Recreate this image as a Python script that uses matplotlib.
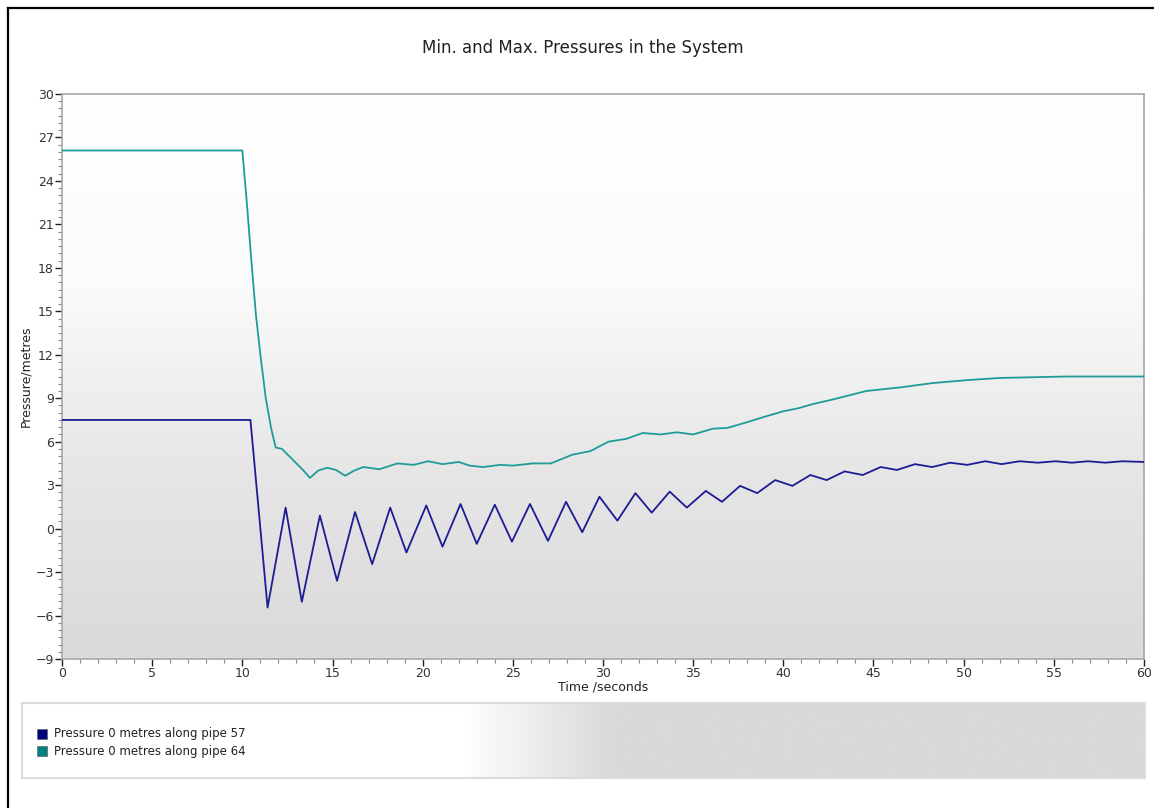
import numpy as np
import matplotlib
matplotlib.use("Agg")
from matplotlib import pyplot as plt
from matplotlib.lines import Line2D
from matplotlib.ticker import MultipleLocator
from matplotlib.colors import LinearSegmentedColormap

# pipe 57 (navy) - time / pressure
t57 = [0, 10.45, 11.4, 12.4, 13.3, 14.3, 15.25, 16.25, 17.2, 18.2, 19.1, 20.2, 21.1, 22.1,
       23.0, 24.0, 24.95, 25.95, 26.95, 27.95, 28.85, 29.8, 30.8, 31.8, 32.7, 33.7, 34.65,
       35.7, 36.6, 37.6, 38.55, 39.55, 40.5, 41.5, 42.4, 43.4, 44.4, 45.4, 46.3, 47.3, 48.25,
       49.25, 50.2, 51.2, 52.1, 53.1, 54.1, 55.1, 56.0, 56.9, 57.85, 58.8, 60]
p57 = [7.5, 7.5, -5.45, 1.45, -5.05, 0.9, -3.6, 1.15, -2.45, 1.45, -1.65, 1.6, -1.25, 1.7,
       -1.05, 1.65, -0.9, 1.7, -0.85, 1.85, -0.25, 2.2, 0.55, 2.45, 1.1, 2.55, 1.45,
       2.6, 1.85, 2.95, 2.45, 3.35, 2.95, 3.7, 3.35, 3.95, 3.7, 4.25, 4.05, 4.45, 4.25,
       4.55, 4.4, 4.65, 4.45, 4.65, 4.55, 4.65, 4.55, 4.65, 4.55, 4.65, 4.6]

# pipe 64 (teal)
t64 = [0, 10.0, 10.25, 10.5, 10.75, 11.0, 11.3, 11.6, 11.85, 12.2, 12.6, 13.0, 13.4, 13.75,
       14.2, 14.7, 15.2, 15.7, 16.2, 16.7, 17.6, 18.6, 19.5, 20.3, 21.1, 22.0, 22.6, 23.35,
       24.3, 25.0, 26.1, 27.1, 28.3, 29.3, 30.3, 31.3, 32.2, 33.2, 34.1, 35.0, 36.1, 36.9,
       38.0, 38.9, 40.0, 40.8, 41.65, 42.7, 44.6, 46.5, 48.3, 50.2, 52.0, 53.9, 55.7, 60]
p64 = [26.1, 26.1, 22.5, 18.5, 14.8, 12.0, 9.0, 6.9, 5.6, 5.5, 5.0, 4.5, 4.0, 3.5,
       4.0, 4.2, 4.05, 3.65, 4.0, 4.25, 4.1, 4.5, 4.4, 4.65, 4.45, 4.6, 4.35, 4.25,
       4.4, 4.35, 4.5, 4.5, 5.1, 5.35, 6.0, 6.2, 6.6, 6.5, 6.65, 6.5, 6.9, 6.95,
       7.35, 7.7, 8.1, 8.3, 8.6, 8.9, 9.5, 9.75, 10.05, 10.25, 10.4, 10.45, 10.5, 10.5]

labels = ["Pressure 0 metres along pipe 57", "Pressure 0 metres along pipe 64"]
line_colors = ["#1c1c94", "#1f9c98"]
box_colors = ["#000080", "#008080"]

W, H = 1154, 808
fig = plt.figure(figsize=(W / 100, H / 100), dpi=100)
plt.rcParams['font.family'] = ['DejaVu Sans']

# frame at the top and left edge
fig.add_artist(Line2D([8 / W, 8 / W], [0, 1 - 8 / H], color="black", lw=1.6))
fig.add_artist(Line2D([8 / W, 1], [1 - 8 / H, 1 - 8 / H], color="black", lw=1.6))

fig.text(583 / W, 1 - 48 / H, "Min. and Max. Pressures in the System",
         ha="center", va="center", fontsize=12, color="#222222")

ax = fig.add_axes([62 / W, (H - 659) / H, 1082 / W, 565 / H])
grad = LinearSegmentedColormap.from_list("bg", ["#dadada", "#e6e6e6", "#fbfbfb", "#ffffff"])
ax.imshow(np.linspace(0, 1, 256).reshape(-1, 1), cmap=grad, origin="lower",
          extent=[0, 60, -9, 30], aspect="auto", zorder=0)

ax.plot(t57, p57, color=line_colors[0], lw=1.3, zorder=3)
ax.plot(t64, p64, color=line_colors[1], lw=1.3, zorder=3)

ax.set_xlim(0, 60)
ax.set_ylim(-9, 30)
ax.xaxis.set_major_locator(MultipleLocator(5))
ax.xaxis.set_minor_locator(MultipleLocator(1))
ax.yaxis.set_major_locator(MultipleLocator(3))
ax.yaxis.set_minor_locator(MultipleLocator(0.5))
for s in ax.spines.values():
    s.set_color("#a8a8a8")
    s.set_linewidth(1.2)
ax.tick_params(which="major", length=5, width=1, color="#222222", labelsize=9, pad=1,
               labelcolor="#333333")
ax.tick_params(which="minor", length=3, width=0.8, color="#888888")
ax.set_xlabel("Time /seconds", fontsize=9, color="#222222", labelpad=0)
ax.set_ylabel("Pressure/metres", fontsize=9, color="#222222", labelpad=2)

# legend panel
lax = fig.add_axes([22 / W, (H - 778) / H, 1123 / W, 75 / H])
xs = np.linspace(0, 1, 600)
g = np.clip((xs * 1123 - 440) / 150, 0, 1)
lgrad = LinearSegmentedColormap.from_list("lg", ["#ffffff", "#d9d9d9"])
lax.imshow(g.reshape(1, -1), cmap=lgrad, extent=[0, 1, 0, 1], aspect="auto", vmin=0, vmax=1)
lax.set_xlim(0, 1)
lax.set_ylim(0, 1)
lax.set_xticks([])
lax.set_yticks([])
for s in lax.spines.values():
    s.set_color("#dcdcdc")
    s.set_linewidth(1.5)
for i, lab in enumerate(labels):
    yy = 1 - (31 + 17 * i) / 75
    lax.plot([20 / 1123], [yy], marker="s", ms=6.5, color=box_colors[i],
             mec="#666666", mew=0.5, ls="none")
    lax.text(32 / 1123, yy, lab, fontsize=8.5, va="center", ha="left", color="#222222")

fig.savefig("out.png", dpi=100)
